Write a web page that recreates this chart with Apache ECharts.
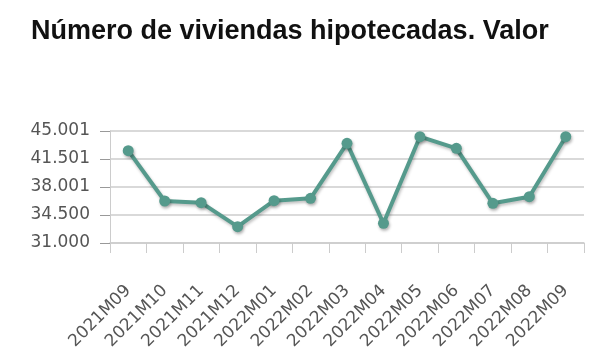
<!DOCTYPE html>
<html><head><meta charset="utf-8">
<script src="https://cdn.jsdelivr.net/npm/echarts@6/dist/echarts.min.js"></script>
<style>html,body{margin:0;padding:0;background:#fff}#c{width:602px;height:364px}</style>
</head><body><div id="c"></div>
<script>
const titleText = "Número de viviendas hipotecadas. Valor";
const categories = ["2021M09","2021M10","2021M11","2021M12","2022M01","2022M02","2022M03","2022M04","2022M05","2022M06","2022M07","2022M08","2022M09"];
const values = [42540,36250,36040,33040,36290,36580,43460,33460,44290,42830,35960,36790,44290];
const yMin = 31000, yMax = 45001, yInterval = 3500.25;

function fmt(v){ return Math.round(v).toString().replace(/\B(?=(\d{3})+(?!\d))/g,"."); }

const chart = echarts.init(document.getElementById('c'));
chart.setOption({
  animation:false,
  title:{text:titleText,left:26,top:13,textStyle:{fontFamily:'Liberation Sans, Arial, sans-serif',fontWeight:'bold',fontSize:27,color:'#111'}},
  grid:{left:110,right:18,top:131,bottom:121,containLabel:false},
  xAxis:{type:'category',data:categories,boundaryGap:true,
    axisLine:{lineStyle:{color:'#ccc',width:1.5}},
    axisTick:{show:true,length:10,lineStyle:{color:'#ccc'}},
    axisLabel:{rotate:45,color:'#555',fontSize:17,fontFamily:'DejaVu Sans, sans-serif',margin:45,interval:0}},
  yAxis:{type:'value',min:yMin,max:yMax,interval:yInterval,
    axisLine:{show:true,lineStyle:{color:'#ccc'}},
    axisTick:{show:true,length:10,lineStyle:{color:'#999'}},
    splitLine:{lineStyle:{color:'#ccc',width:1.5}},
    axisLabel:{formatter:fmt,color:'#555',fontSize:17,fontFamily:'DejaVu Sans, sans-serif',margin:20}},
  series:[{type:'line',data:values,symbol:'circle',symbolSize:11,
    lineStyle:{color:'#559a8c',width:4,shadowColor:'rgba(0,0,0,0.25)',shadowBlur:3,shadowOffsetX:1,shadowOffsetY:2},
    itemStyle:{color:'#559a8c',shadowColor:'rgba(0,0,0,0.3)',shadowBlur:3,shadowOffsetX:1,shadowOffsetY:2}}]
});
</script></body></html>
